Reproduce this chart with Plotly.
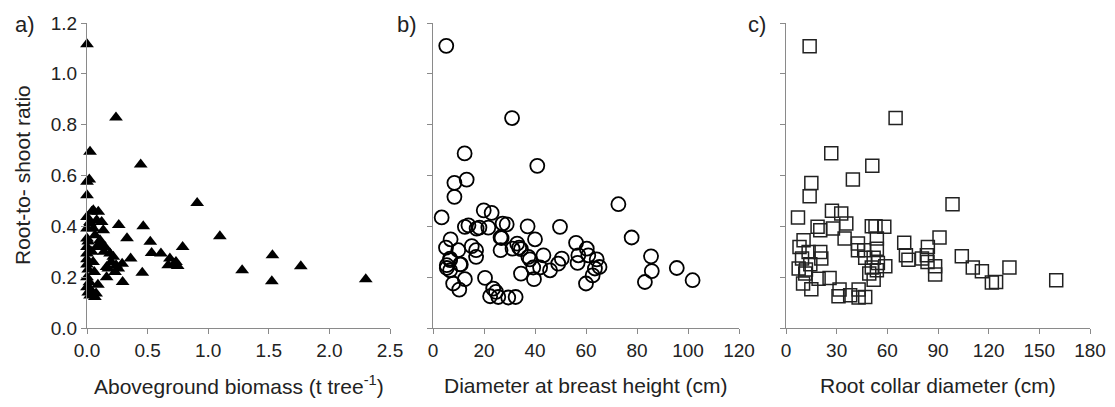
import plotly.graph_objects as go

# Panel a) aboveground biomass (t tree-1) vs root-to-shoot ratio
agb = [0.0, 0.025, 0.019, 0.0, 0.0, 0.052, 0.093, 0.0, 0.025, 0.121, 0.0, 0.052,
       0.134, 0.0, 0.107, 0.08, 0.148, 0.0, 0.19, 0.217, 0.0, 0.0, 0.162, 0.0,
       0.0, 0.0, 0.025, 0.065, 0.075, 0.162, 0.176, 0.231, 0.24, 0.066, 0.08,
       0.039, 0.025, 0.01, 0.02, 0.03, 0.01, 0.04, 0.05, 0.01, 0.045,
       0.239, 0.443, 0.909, 1.096, 1.53, 1.28, 1.764, 1.525, 2.3, 0.789, 0.464,
       0.262, 0.33, 0.522, 0.533, 0.61, 0.684, 0.734, 0.67, 0.748, 0.36, 0.456,
       0.294, 0.258, 0.29, 0.72, 0.11, 0.14, 0.06, 0.09, 0.2]
rs_a = [1.116, 0.693, 0.584, 0.575, 0.522, 0.463, 0.457, 0.437, 0.417, 0.417, 0.391, 0.391,
        0.385, 0.352, 0.345, 0.319, 0.319, 0.319, 0.293, 0.28, 0.293, 0.27, 0.24, 0.25,
        0.2, 0.16, 0.128, 0.122, 0.136, 0.2, 0.234, 0.22, 0.247, 0.365, 0.424,
        0.457, 0.411, 0.23, 0.18, 0.15, 0.34, 0.3, 0.26, 0.14, 0.13,
        0.828, 0.643, 0.492, 0.361, 0.286, 0.227, 0.243, 0.184, 0.192, 0.319, 0.40,
        0.405, 0.353, 0.339, 0.295, 0.293, 0.273, 0.26, 0.247, 0.244, 0.273, 0.217,
        0.181, 0.234, 0.253, 0.253, 0.33, 0.3, 0.22, 0.17, 0.26]

# Panel b) diameter at breast height (cm)
dbh = [5.2, 31, 12.4, 40.9, 13.2, 8.4, 8.4, 3.4, 19.9, 23, 12.5, 13.9, 17.1, 18.2,
       21.7, 27.3, 28.9, 37.1, 49.8, 40, 26.5, 6.9, 5.1, 9.9, 15.2, 16.9, 16.9,
       26.5, 33, 33.8, 31.2, 37.4, 43.3, 56.1, 57, 6.7, 5.4, 10.6, 6.7, 5.4, 6.7,
       10.9, 12.5, 7.9, 10.3, 20.4, 23.6, 22.4, 24.7, 25.6, 29.5, 32.4, 26.9,
       34.5, 38, 34.5, 39.3, 39.6, 42, 45.9, 49.1, 50.5, 56.7, 60.3, 60, 60.9,
       64.2, 63.5, 65.3, 62.6, 72.7, 77.9, 85.5, 85.8, 83.1, 95.6, 101.8]
rs_b = [1.11, 0.826, 0.687, 0.638, 0.584, 0.571, 0.516, 0.435, 0.463, 0.453, 0.398, 0.404, 0.391, 0.395,
        0.395, 0.411, 0.408, 0.40, 0.398, 0.349, 0.356, 0.349, 0.316, 0.306, 0.322, 0.306, 0.28,
        0.306, 0.332, 0.316, 0.312, 0.28, 0.286, 0.335, 0.286, 0.273, 0.247, 0.25, 0.267, 0.236, 0.227,
        0.25, 0.192, 0.175, 0.151, 0.197, 0.155, 0.125, 0.142, 0.122, 0.12, 0.122, 0.354,
        0.31, 0.27, 0.214, 0.238, 0.192, 0.238, 0.227, 0.253, 0.273, 0.256, 0.312, 0.175, 0.286,
        0.27, 0.234, 0.24, 0.207, 0.487, 0.356, 0.282, 0.224, 0.181, 0.236, 0.188]

# Panel c) root collar diameter (cm)
rcd = [14, 64.9, 26.8, 51.1, 39.6, 15, 14, 98.6, 7.1, 27.2, 32.7, 18.7, 20.3, 27.8,
       35.7, 50.8, 53, 58.2, 34.7, 42.6, 42.6, 46.3, 53.8, 53.8, 46.9, 51.9, 54.4,
       58.8, 50.8, 53.8, 49.3, 51.9, 10.4, 8, 13.4, 20.3, 20.9, 9.5, 7.5, 11.8, 14.4,
       11.4, 10.1, 15, 19.3, 25.8, 31.7, 31.1, 38, 43, 43, 46.9, 70, 71, 72.5, 84,
       83.4, 80.5, 83.8, 90.9, 88.3, 88.3, 104.1, 110.6, 116, 121.9, 124.4, 132.3, 160]
rs_c = [1.109, 0.826, 0.688, 0.638, 0.584, 0.57, 0.518, 0.487, 0.435, 0.461, 0.45, 0.398, 0.385, 0.391,
        0.411, 0.40, 0.40, 0.398, 0.352, 0.332, 0.306, 0.306, 0.352, 0.312, 0.276, 0.276, 0.256,
        0.243, 0.238, 0.227, 0.214, 0.19, 0.345, 0.319, 0.299, 0.299, 0.273, 0.273, 0.234, 0.23, 0.251,
        0.214, 0.175, 0.152, 0.194, 0.197, 0.151, 0.125, 0.129, 0.151, 0.12, 0.122, 0.335, 0.286, 0.269, 0.319,
        0.286, 0.273, 0.26, 0.356, 0.243, 0.21, 0.282, 0.238, 0.223, 0.179, 0.181, 0.238, 0.188]

W, H = 1115, 407
OFF = 8  # page body margin shifts the figure by 8px, so place everything 8px up/left
axis_grey = '#8a8a8a'
font_family = 'Liberation Sans, Arial, sans-serif'

fig = go.Figure()
fig.add_trace(go.Scatter(x=agb, y=rs_a, mode='markers', xaxis='x', yaxis='y', cliponaxis=False,
                         marker=dict(symbol='triangle-up', size=12, color='black')))
fig.add_trace(go.Scatter(x=dbh, y=rs_b, mode='markers', xaxis='x2', yaxis='y2', cliponaxis=False,
                         marker=dict(symbol='circle-open', size=14, color='black', line=dict(width=1.8))))
fig.add_trace(go.Scatter(x=rcd, y=rs_c, mode='markers', xaxis='x3', yaxis='y3', cliponaxis=False,
                         marker=dict(symbol='square-open', size=13, color='#222222', line=dict(width=1.5))))


def px_x(p):
    return (p - OFF) / W


def px_y(p):
    return 1 - (p - OFF) / H


# panel positions in screen pixels (left, right); shared vertical extent
panels = [(87, 390), (433, 739), (786, 1090)]
y_top, y_bot = 23, 328
ydom = [px_y(y_bot), px_y(y_top)]

common = dict(showline=True, linecolor=axis_grey, linewidth=1, ticks='outside', ticklen=5,
              tickcolor=axis_grey, showgrid=False, zeroline=False, automargin=False,
              tickfont=dict(size=19, color='#222222', family=font_family))

xranges = [([0, 2.5], 0.5, '.1f'), ([0, 120], 20, ''), ([0, 180], 30, '')]
layout = {}
for i, ((l, r), (rng, dt, fmt)) in enumerate(zip(panels, xranges)):
    sfx = '' if i == 0 else str(i + 1)
    layout['xaxis' + sfx] = dict(common, domain=[px_x(l), px_x(r)], range=rng, dtick=dt, tick0=0,
                                 tickformat=fmt, anchor='y' + sfx)
    layout['yaxis' + sfx] = dict(common, domain=ydom, range=[0, 1.2], dtick=0.2, tick0=0,
                                 tickformat='.1f', anchor='x' + sfx, showticklabels=(i == 0))

titles = ['Aboveground biomass (t tree<sup>-1</sup>)', 'Diameter at breast height (cm)',
          'Root collar diameter (cm)']
annotations = []
for (l, r), t in zip(panels, titles):
    annotations.append(dict(text=t, x=px_x((l + r) / 2), y=px_y(385), xref='paper', yref='paper',
                            xanchor='center', yanchor='middle', showarrow=False,
                            font=dict(size=21, color='#222222', family=font_family)))
for lab, px in zip(['a)', 'b)', 'c)'], [25, 407, 757]):
    annotations.append(dict(text=lab, x=px_x(px), y=px_y(25), xref='paper', yref='paper',
                            xanchor='center', yanchor='middle', showarrow=False,
                            font=dict(size=22, color='#222222', family=font_family)))
annotations.append(dict(text='Root-to- shoot ratio', x=px_x(22), y=px_y(175), xref='paper',
                        yref='paper', textangle=-90, xanchor='center', yanchor='middle',
                        showarrow=False, font=dict(size=21, color='#222222', family=font_family)))

fig.update_layout(width=W, height=H, margin=dict(l=0, r=0, t=0, b=0, pad=0, autoexpand=False),
                  plot_bgcolor='white', paper_bgcolor='white', showlegend=False,
                  annotations=annotations, **layout)

fig.write_html("out.html")
